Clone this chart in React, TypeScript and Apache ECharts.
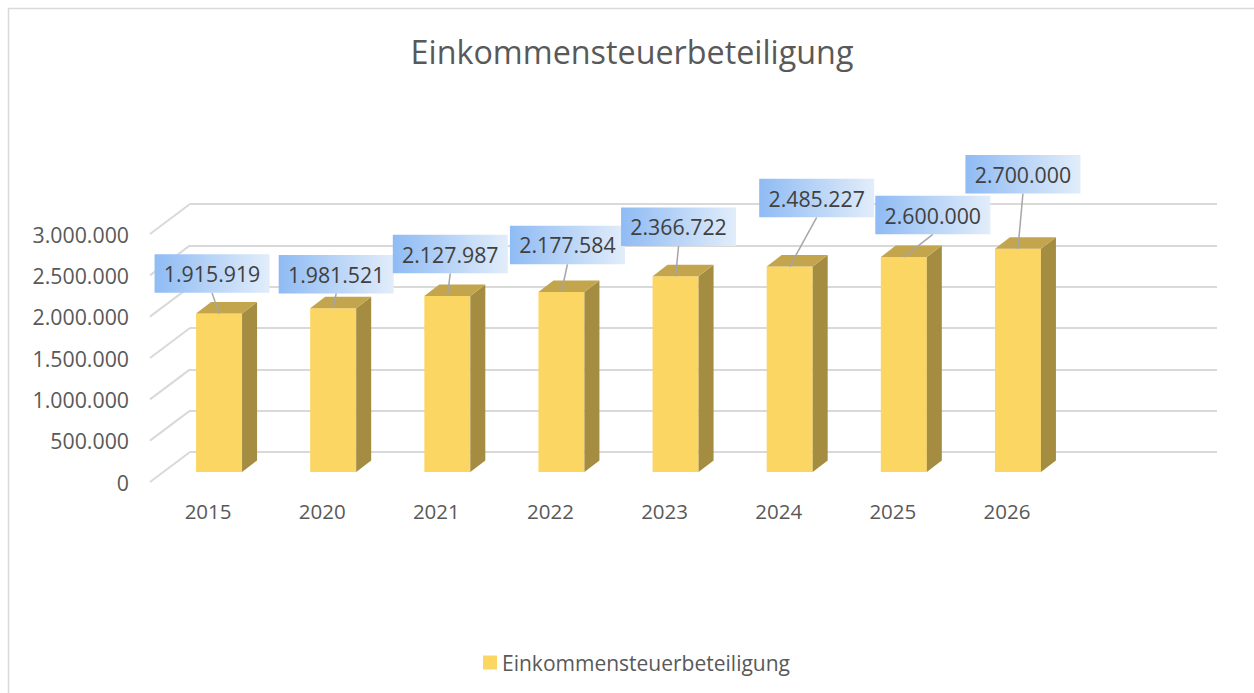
import React, { useEffect, useRef } from "react";
import * as echarts from "echarts";

// ---- data ----
const categories = ["2015", "2020", "2021", "2022", "2023", "2024", "2025", "2026"];
const values = [1915919, 1981521, 2127987, 2177584, 2366722, 2485227, 2600000, 2700000];
const yTicks = [0, 500000, 1000000, 1500000, 2000000, 2500000, 3000000];
const seriesName = "Einkommensteuerbeteiligung";
const titleText = "Einkommensteuerbeteiligung";

// ---- layout (label box offsets relative to bar top, in px) ----
const labelOffsets = [
  [-7, -40],
  [3, -34],
  [3, -42],
  [6, -47],
  [3, -49.5],
  [27, -68.5],
  [29, -42],
  [5, -74.5],
];

const FONT = "'Open Sans', 'Noto Sans', sans-serif";
const BAR_W = 46;
const BAR_SHIFT_X = 11;
const BAR_SHIFT_Y = -10;
const DEPTH_X = 15;
const DEPTH_Y = -11.5;
const WALL_DX = 40;
const WALL_DY = -30;
const BOX_W = 115;
const BOX_H = 38.5;

const fmt = (v: number) => Math.round(v).toString().replace(/\B(?=(\d{3})+(?!\d))/g, ".");

export default function App() {
  const ref = useRef<HTMLDivElement>(null);
  useEffect(() => {
    if (!ref.current) return;
    const chart = echarts.init(ref.current, undefined, { renderer: "svg" });

    const barGeom = (api: any) => {
      const i = api.value(0);
      const v = api.value(1);
      const top = api.coord([i, v]);
      const base = api.coord([i, 0]);
      const cx = top[0] + BAR_SHIFT_X;
      const yT = top[1] + BAR_SHIFT_Y;
      const yB = base[1] + BAR_SHIFT_Y;
      return { cx, yT, yB, v };
    };

    const option: any = {
      animation: false,
      backgroundColor: "#ffffff",
      title: {
        text: titleText,
        left: 627,
        textAlign: "center",
        top: 30,
        textStyle: { fontFamily: FONT, fontSize: 32.3, fontWeight: "normal", color: "#595959" },
      },
      legend: {
        data: [seriesName],
        left: 478,
        top: 647,
        icon: "rect",
        itemWidth: 14,
        itemHeight: 14,
        textStyle: { fontFamily: FONT, fontSize: 21, color: "#595959" },
      },
      graphic: [
        { type: "line", shape: { x1: 8, y1: 8.5, x2: 1254, y2: 8.5 }, style: { stroke: "#D9D9D9", lineWidth: 1.5 } },
        { type: "line", shape: { x1: 8.5, y1: 8, x2: 8.5, y2: 693 }, style: { stroke: "#D9D9D9", lineWidth: 1.5 } },
      ],
      grid: [
        { left: 190, right: 37, top: 204, bottom: 241 },
        { left: 151, right: 190, top: 234, bottom: 211 },
      ],
      xAxis: [
        { gridIndex: 0, type: "value", min: 0, max: 1, show: false },
        {
          gridIndex: 1,
          type: "category",
          data: categories,
          axisLine: { show: false },
          axisTick: { show: false },
          axisLabel: { margin: 18, fontFamily: FONT, fontSize: 20.5, color: "#595959" },
        },
      ],
      yAxis: [
        {
          gridIndex: 0,
          type: "value",
          min: 0,
          max: 3000000,
          interval: 500000,
          axisLabel: { show: false },
          axisLine: { show: false },
          axisTick: { show: false },
          splitLine: { show: true, lineStyle: { color: "#D9D9D9", width: 2 } },
        },
        {
          gridIndex: 1,
          type: "value",
          min: 0,
          max: 3000000,
          interval: 500000,
          axisLine: { show: false },
          axisTick: { show: false },
          splitLine: { show: false },
          axisLabel: {
            margin: 22,
            fontFamily: FONT,
            fontSize: 21.3,
            color: "#595959",
            formatter: (v: number) => fmt(v),
          },
        },
      ],
      series: [
        {
          name: "wall-diagonals",
          type: "custom",
          xAxisIndex: 0,
          yAxisIndex: 0,
          z: 1,
          silent: true,
          data: yTicks.map((v) => [0, v]),
          encode: { x: 0, y: 1 },
          renderItem: (params: any, api: any) => {
            const p = api.coord([0, api.value(1)]);
            return {
              type: "line",
              shape: { x1: p[0] - WALL_DX, y1: p[1] - WALL_DY, x2: p[0], y2: p[1] },
              style: { stroke: "#D9D9D9", lineWidth: 2 },
            };
          },
        },
        {
          name: seriesName,
          type: "custom",
          xAxisIndex: 1,
          yAxisIndex: 1,
          z: 2,
          itemStyle: { color: "#FCD663" },
          data: values.map((v, i) => [i, v]),
          encode: { x: 0, y: 1 },
          renderItem: (params: any, api: any) => {
            const { cx, yT, yB } = barGeom(api);
            const l = cx - BAR_W / 2;
            const r = cx + BAR_W / 2;
            return {
              type: "group",
              children: [
                {
                  type: "rect",
                  shape: { x: l, y: yT, width: BAR_W, height: yB - yT },
                  style: { fill: "#FCD663" },
                },
                {
                  type: "polygon",
                  shape: { points: [[r, yT], [r + DEPTH_X, yT + DEPTH_Y], [r + DEPTH_X, yB + DEPTH_Y], [r, yB]] },
                  style: { fill: "#A48C40" },
                },
                {
                  type: "polygon",
                  shape: { points: [[l, yT], [l + DEPTH_X, yT + DEPTH_Y], [r + DEPTH_X, yT + DEPTH_Y], [r, yT]] },
                  style: { fill: "#C2A54C" },
                },
              ],
            };
          },
        },
        {
          name: "data-labels",
          type: "custom",
          xAxisIndex: 1,
          yAxisIndex: 1,
          z: 3,
          silent: true,
          data: values.map((v, i) => [i, v]),
          encode: { x: 0, y: 1 },
          renderItem: (params: any, api: any) => {
            const { cx, yT, v } = barGeom(api);
            const off = labelOffsets[params.dataIndex];
            const bx = cx + off[0];
            const by = yT + off[1];
            return {
              type: "group",
              children: [
                {
                  type: "line",
                  shape: { x1: bx, y1: by + BOX_H / 2, x2: cx, y2: yT },
                  style: { stroke: "#A6A6A6", lineWidth: 1.5 },
                },
                {
                  type: "rect",
                  shape: { x: bx - BOX_W / 2, y: by - BOX_H / 2, width: BOX_W, height: BOX_H },
                  style: {
                    fill: new echarts.graphic.LinearGradient(0, 0, 1, 0, [
                      { offset: 0, color: "#8FBBF4" },
                      { offset: 1, color: "#E2EDFA" },
                    ]),
                  },
                },
                {
                  type: "text",
                  x: bx,
                  y: by,
                  style: {
                    text: fmt(v),
                    fill: "#404040",
                    fontFamily: FONT,
                    fontSize: 21.3,
                    align: "center",
                    verticalAlign: "middle",
                  },
                },
              ],
            };
          },
        },
      ],
    };
    chart.setOption(option);
    return () => chart.dispose();
  }, []);
  return (
    <div
      ref={ref}
      style={{ position: "fixed", left: 0, top: 0, width: 1254, height: 693, background: "#fff" }}
    />
  );
}
